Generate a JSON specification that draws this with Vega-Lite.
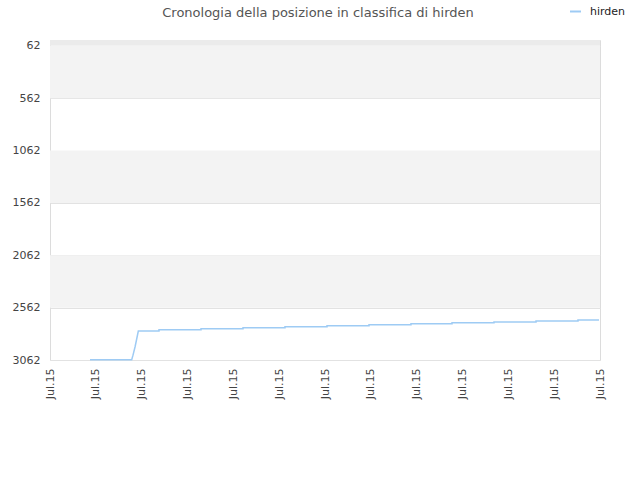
{
  "$schema": "https://vega.github.io/schema/vega-lite/v6.json",
  "width": 550,
  "height": 320,
  "autosize": "none",
  "padding": {"left": 50, "top": 40, "right": 40, "bottom": 120},
  "background": "white",
  "title": {
    "text": "Cronologia della posizione in classifica di hirden",
    "font": "DejaVu Sans",
    "fontSize": 13,
    "fontWeight": "normal",
    "color": "#555555",
    "anchor": "middle",
    "frame": "group",
    "dx": -7,
    "dy": 31,
    "offset": 16
  },
  "config": {
    "view": {"stroke": "#dcdcdc"},
    "font": "DejaVu Sans"
  },
  "datasets": {
    "bands": [
      {"lo": 7, "hi": 62, "shade": "top"},
      {"lo": 62, "hi": 562, "shade": "band"},
      {"lo": 1062, "hi": 1562, "shade": "band"},
      {"lo": 2062, "hi": 2562, "shade": "band"}
    ],
    "rank": [
      {"t": 0.873, "pos": 3059, "player": "hirden"},
      {"t": 1.783, "pos": 3059, "player": "hirden"},
      {"t": 1.811, "pos": 3016, "player": "hirden"},
      {"t": 1.855, "pos": 2938, "player": "hirden"},
      {"t": 1.887, "pos": 2871, "player": "hirden"},
      {"t": 1.927, "pos": 2785, "player": "hirden"},
      {"t": 2.378, "pos": 2785, "player": "hirden"},
      {"t": 2.378, "pos": 2773, "player": "hirden"},
      {"t": 3.295, "pos": 2773, "player": "hirden"},
      {"t": 3.295, "pos": 2763, "player": "hirden"},
      {"t": 4.211, "pos": 2763, "player": "hirden"},
      {"t": 4.211, "pos": 2753, "player": "hirden"},
      {"t": 5.127, "pos": 2753, "player": "hirden"},
      {"t": 5.127, "pos": 2744, "player": "hirden"},
      {"t": 6.044, "pos": 2744, "player": "hirden"},
      {"t": 6.044, "pos": 2734, "player": "hirden"},
      {"t": 6.96, "pos": 2734, "player": "hirden"},
      {"t": 6.96, "pos": 2725, "player": "hirden"},
      {"t": 7.876, "pos": 2725, "player": "hirden"},
      {"t": 7.876, "pos": 2715, "player": "hirden"},
      {"t": 8.771, "pos": 2715, "player": "hirden"},
      {"t": 8.771, "pos": 2706, "player": "hirden"},
      {"t": 9.687, "pos": 2706, "player": "hirden"},
      {"t": 9.687, "pos": 2699, "player": "hirden"},
      {"t": 10.604, "pos": 2699, "player": "hirden"},
      {"t": 10.604, "pos": 2689, "player": "hirden"},
      {"t": 11.52, "pos": 2689, "player": "hirden"},
      {"t": 11.52, "pos": 2680, "player": "hirden"},
      {"t": 11.978, "pos": 2680, "player": "hirden"}
    ]
  },
  "layer": [
    {
      "data": {"name": "bands"},
      "mark": {"type": "rect"},
      "encoding": {
        "y": {
          "field": "lo",
          "type": "quantitative",
          "scale": {"domain": [7, 3062], "reverse": true, "nice": false, "zero": false},
          "axis": {
            "values": [62, 562, 1062, 1562, 2062, 2562, 3062],
            "format": "d",
            "labelFontSize": 11,
            "labelColor": "#444444",
            "labelPadding": 10,
            "ticks": false,
            "domain": false,
            "grid": true,
            "gridColor": "#e2e2e2",
            "title": null
          }
        },
        "y2": {"field": "hi"},
        "fill": {
          "field": "shade",
          "type": "nominal",
          "scale": {"domain": ["top", "band"], "range": ["#ebebeb", "#f3f3f3"]},
          "legend": null
        }
      }
    },
    {
      "data": {"name": "rank"},
      "mark": {"type": "line", "strokeWidth": 1.5, "interpolate": "linear"},
      "encoding": {
        "x": {
          "field": "t",
          "type": "quantitative",
          "scale": {"domain": [0, 12], "nice": false, "zero": false},
          "axis": {
            "values": [0, 1, 2, 3, 4, 5, 6, 7, 8, 9, 10, 11, 12],
            "labelExpr": "'Jul.15'",
            "labelAngle": -90,
            "labelFontSize": 11,
            "labelColor": "#444444",
            "labelPadding": 8,
            "ticks": false,
            "domain": false,
            "grid": false,
            "title": null
          }
        },
        "y": {
          "field": "pos",
          "type": "quantitative",
          "scale": {"domain": [7, 3062], "reverse": true, "nice": false, "zero": false},
          "axis": {
            "values": [62, 562, 1062, 1562, 2062, 2562, 3062],
            "format": "d",
            "labelFontSize": 11,
            "labelColor": "#444444",
            "labelPadding": 10,
            "ticks": false,
            "domain": false,
            "grid": true,
            "gridColor": "#e2e2e2",
            "title": null
          }
        },
        "color": {
          "field": "player",
          "type": "nominal",
          "scale": {"range": ["#9ecbf4"]},
          "legend": {
            "orient": "none",
            "legendX": 519,
            "legendY": -35,
            "title": null,
            "symbolType": "stroke",
            "symbolStrokeWidth": 2,
            "symbolSize": 120,
            "labelOffset": 8,
            "labelFontSize": 11,
            "labelColor": "#222222",
            "labelFont": "DejaVu Sans"
          }
        }
      }
    }
  ]
}
